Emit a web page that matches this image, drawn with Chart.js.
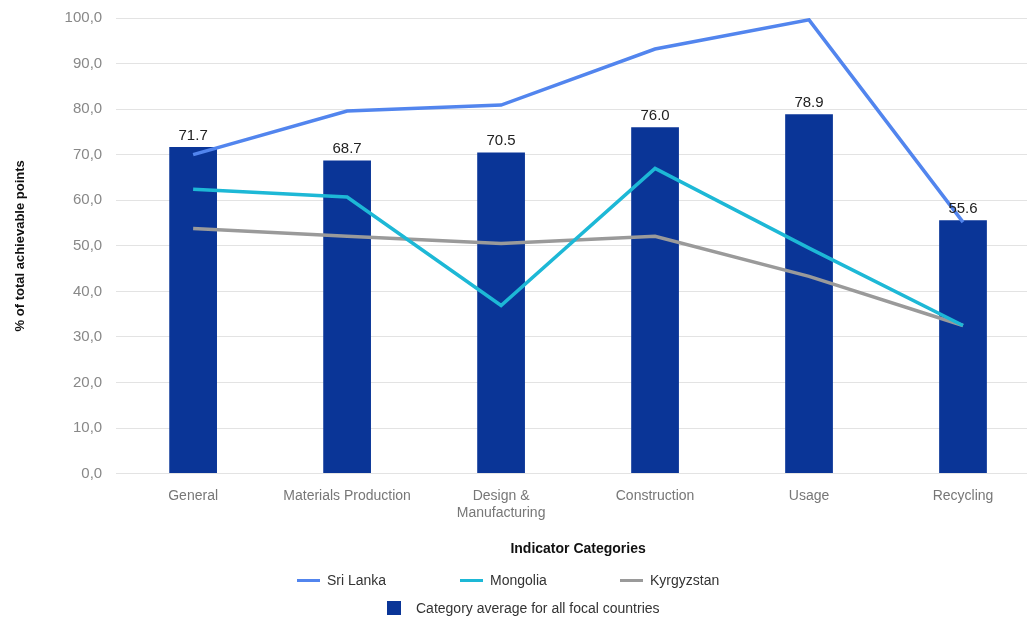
<!DOCTYPE html>
<html><head><meta charset="utf-8">
<script src="https://cdn.jsdelivr.net/npm/chart.js@4"></script>
<style>
html,body{margin:0;padding:0;background:#fff;overflow:hidden;width:1027px;height:620px;}
#wrap{position:relative;width:1027px;height:620px;overflow:hidden;}
#c{position:absolute;left:0;top:-5px;}
#legend{position:absolute;left:0;top:0;width:1027px;height:620px;pointer-events:none;font-family:"Liberation Sans",Arial,sans-serif;font-size:14px;color:#333;}
.li{position:absolute;display:flex;align-items:center;white-space:nowrap;}
.ln{display:inline-block;width:23px;height:3px;margin-right:7px;}
.sq{display:inline-block;width:14px;height:14px;margin-right:15px;}
</style></head>
<body>
<div id="wrap"><canvas id="c" width="1045" height="625"></canvas><div id="legend"></div></div>
<script>
const categories = ["General","Materials Production",["Design &","Manufacturing"],"Construction","Usage","Recycling"];
const categoryAverage = [71.7, 68.7, 70.5, 76.0, 78.9, 55.6];
const sriLanka = [70.0, 79.6, 80.9, 93.2, 99.6, 55.2];
const mongolia = [62.4, 60.7, 36.9, 67.0, 49.5, 32.5];
const kyrgyzstan = [53.8, 52.1, 50.5, 52.1, 43.3, 32.5];
const yTicks = [0,10,20,30,40,50,60,70,80,90,100];

const FONT = '"Liberation Sans", Arial, sans-serif';

const barLabels = {
  id:'barLabels',
  afterDatasetsDraw(chart){
    const ctx = chart.ctx;
    const meta = chart.getDatasetMeta(3);
    ctx.save();
    ctx.font = '15px ' + FONT;
    ctx.fillStyle = '#222';
    ctx.textAlign = 'center';
    ctx.textBaseline = 'bottom';
    meta.data.forEach((el,i)=>{
      ctx.fillText(categoryAverage[i].toFixed(1), el.x, el.y - 4);
    });
    ctx.restore();
  }
};

const chart = new Chart(document.getElementById('c'), {
  data:{
    labels:categories,
    datasets:[
      {type:'line',label:'Sri Lanka',data:sriLanka,borderColor:'#5285ee',backgroundColor:'#5285ee',borderWidth:3.5,pointRadius:0,tension:0,order:1},
      {type:'line',label:'Mongolia',data:mongolia,borderColor:'#1db8d6',backgroundColor:'#1db8d6',borderWidth:3.5,pointRadius:0,tension:0,order:2},
      {type:'line',label:'Kyrgyzstan',data:kyrgyzstan,borderColor:'#9a9a9a',backgroundColor:'#9a9a9a',borderWidth:3.5,pointRadius:0,tension:0,order:3},
      {type:'bar',label:'Category average for all focal countries',data:categoryAverage,backgroundColor:'#0a3597',borderWidth:0,categoryPercentage:1,barPercentage:0.31,order:10}
    ]
  },
  options:{
    responsive:false,
    animation:false,
    layout:{padding:{top:5,right:5,bottom:58,left:9}},
    plugins:{legend:{display:false},tooltip:{enabled:false}},
    scales:{
      x:{
        grid:{display:false},
        border:{display:false},
        ticks:{color:'#777',font:{family:FONT,size:14},padding:6,maxRotation:0,autoSkip:false},
        title:{display:true,text:'Indicator Categories',color:'#111',font:{family:FONT,size:14,weight:'bold'},padding:{top:14}}
      },
      y:{
        min:0,max:100,
        afterBuildTicks(axis){axis.ticks = yTicks.map(v=>({value:v}));},
        grid:{color:'#e3e3e3',lineWidth:1,drawTicks:false},
        border:{display:false},
        ticks:{color:'#888',font:{family:FONT,size:15},padding:14,callback:v=>v.toFixed(1).replace('.',',')},
        title:{display:true,text:'% of total achievable points',color:'#111',font:{family:FONT,size:13,weight:'bold'},padding:{bottom:22}}
      }
    }
  },
  plugins:[barLabels]
});

// HTML legend built from datasets
const lg = document.getElementById('legend');
const pos = [[297,581],[460,581],[620,581],[387,609]];
chart.data.datasets.forEach((ds,i)=>{
  const d = document.createElement('div');
  d.className='li';
  d.style.left=pos[i][0]+'px';
  d.style.top=(pos[i][1]-9)+'px';
  const m = document.createElement('span');
  m.className = ds.type==='bar' ? 'sq' : 'ln';
  m.style.background = ds.type==='bar' ? ds.backgroundColor : ds.borderColor;
  d.appendChild(m);
  const t = document.createElement('span');
  t.textContent = ds.label;
  d.appendChild(t);
  lg.appendChild(d);
});
</script>
</body></html>
